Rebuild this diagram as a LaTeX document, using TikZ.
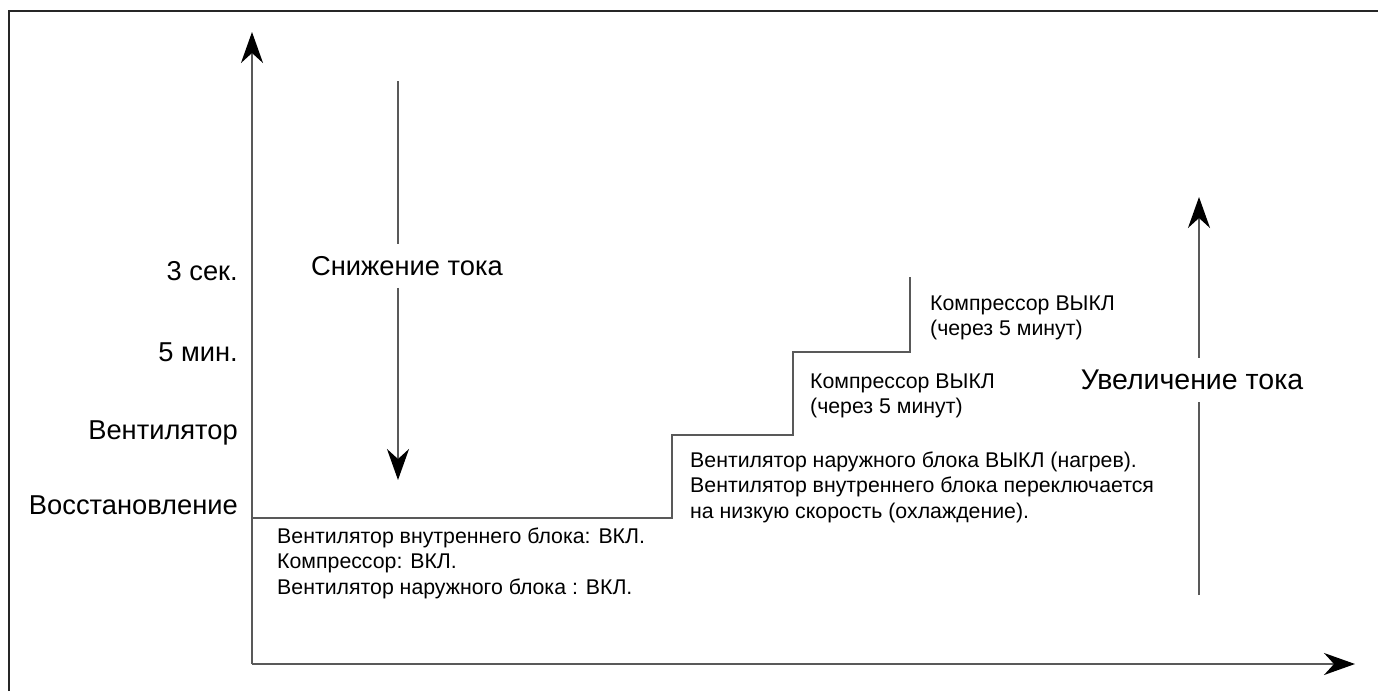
\documentclass[tikz,border=0pt]{standalone}
\usepackage{fontspec}
\setmainfont{Liberation Sans}
\usetikzlibrary{arrows.meta}
\begin{document}
\begin{tikzpicture}[x=1pt,y=-1pt,
  frame/.style={line width=2pt,draw=black!85},
  axis/.style={line width=2pt,draw=black!65},
  tip/.style={-{Stealth[length=31pt,width=22pt,inset=10pt,black]}},
  big/.style={font=\fontsize{27.3}{31}\selectfont,inner sep=0pt},
  small/.style={font=\fontsize{21.3}{25.5}\selectfont,inner sep=0pt,align=left,anchor=west},
  ylab/.style={big,anchor=east}]
\useasboundingbox (0,0) rectangle (1378,691);
% frame (only top and left edges visible)
\coordinate (fb) at (9,691);
\coordinate (fc) at (9,11);
\coordinate (fr) at (1378,11);
\draw[frame] (fb) -- (fc) -- (fr);
% axes
\coordinate (O) at (252,664);
\coordinate (ytop) at (252,32);
\coordinate (xend) at (1355,664);
\draw[axis,tip] (O) -- (ytop);
\draw[axis,tip] (O) -- (xend);
% staircase
\coordinate (s0) at (252,518);
\coordinate (s1) at (672,518);
\coordinate (s2) at (672,435);
\coordinate (s3) at (793,435);
\coordinate (s4) at (793,352);
\coordinate (s5) at (910,352);
\coordinate (s6) at (910,277);
\draw[axis] (s0) -- (s1) -- (s2) -- (s3) -- (s4) -- (s5) -- (s6);
% y labels
\node[ylab] (l1) at (238,271) {3 сек.};
\node[ylab] (l2) at (238,352) {5 мин.};
\node[ylab] (l3) at (238,433) {Вентилятор};
\node[ylab] (l4) at (238,505) {Восстановление};
% decrease arrow
\node[big] (dec) at (407,266) {Снижение тока};
\coordinate (dtop) at (398,81);
\coordinate (dbot) at (398,480);
\draw[axis] (dtop) -- ([yshift=12pt]dtop |- dec.north);
\draw[axis,tip] ([yshift=-12pt]dtop |- dec.south) -- (dbot);
% increase arrow
\node[big,font=\fontsize{28.5}{31}\selectfont] (inc) at (1192,380) {Увеличение тока};
\coordinate (ubot) at (1199,595);
\coordinate (utop) at (1199,197);
\draw[axis] (ubot) -- ([yshift=-12pt]ubot |- inc.south);
\draw[axis,tip] ([yshift=12pt]ubot |- inc.north) -- (utop);
% step texts
\node[small] (t1) at (277,563) {Вентилятор внутреннего блока: ВКЛ.\\Компрессор: ВКЛ.\\Вентилятор наружного блока : ВКЛ.};
\node[small] (t2) at (690,487) {Вентилятор наружного блока ВЫКЛ (нагрев).\\Вентилятор внутреннего блока переключается\\на низкую скорость (охлаждение).};
\node[small] (t3) at (810,396) {Компрессор ВЫКЛ\\(через 5 минут)};
\node[small] (t4) at (930,318) {Компрессор ВЫКЛ\\(через 5 минут)};
\end{tikzpicture}
\end{document}
